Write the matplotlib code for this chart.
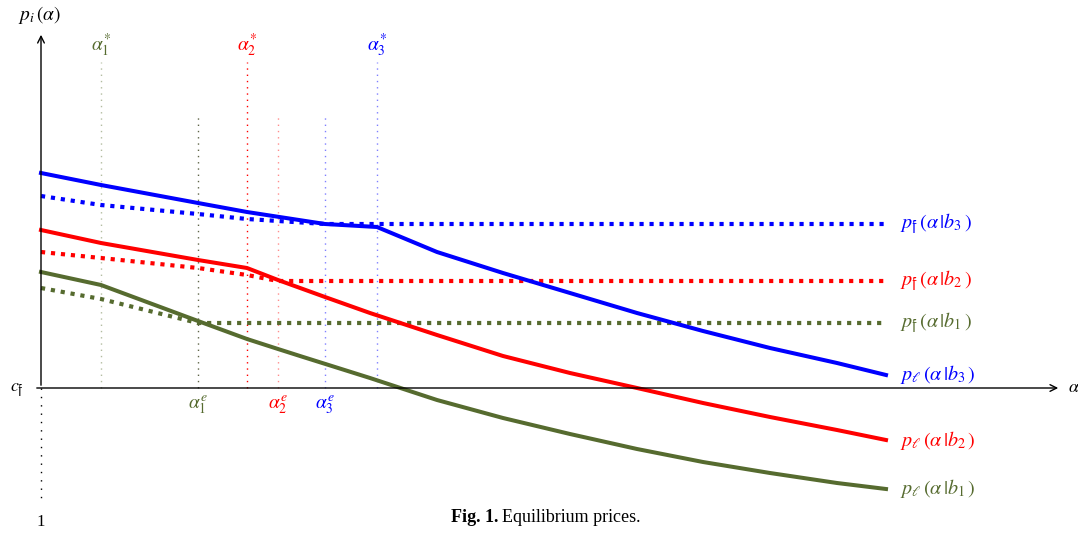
import numpy as np
import matplotlib.pyplot as plt

plt.rcParams['mathtext.fontset'] = 'stix'
plt.rcParams['font.family'] = ['Liberation Serif', 'DejaVu Serif']

GREEN = '#566b2f'
RED = '#ff0000'
BLUE = '#0000ff'

# thresholds on the alpha axis
alpha_star = [0.60, 2.06, 3.36]
alpha_e = [1.57, 2.37, 2.84]

# leader price p_l(alpha | b_i)
x_l3 = [0.0, 0.60, 1.57, 2.06, 2.84, 3.36, 3.96, 4.62, 5.29, 5.96, 6.62, 7.29, 7.96, 8.45]
p_l3 = [2.15, 2.03, 1.85, 1.76, 1.64, 1.61, 1.36, 1.15, 0.95, 0.75, 0.57, 0.40, 0.25, 0.13]
x_l2 = [0.0, 0.60, 1.57, 2.06, 2.37, 2.84, 3.29, 3.96, 4.62, 5.29, 5.96, 6.62, 7.29, 7.96, 8.45]
p_l2 = [1.58, 1.45, 1.28, 1.20, 1.08, 0.91, 0.75, 0.53, 0.32, 0.15, 0.00, -0.15, -0.29, -0.42, -0.52]
x_l1 = [0.0, 0.60, 1.57, 2.06, 2.37, 2.59, 3.29, 3.96, 4.62, 5.29, 5.96, 6.62, 7.29, 7.96, 8.45]
p_l1 = [1.16, 1.03, 0.67, 0.49, 0.39, 0.32, 0.10, -0.12, -0.30, -0.46, -0.61, -0.74, -0.85, -0.95, -1.01]

# follower price p_f(alpha | b_i)
x_f3 = [0.0, 0.60, 1.57, 2.06, 2.84, 8.45]
p_f3 = [1.92, 1.83, 1.74, 1.69, 1.64, 1.64]
x_f2 = [0.0, 0.60, 1.57, 2.06, 2.37, 8.45]
p_f2 = [1.36, 1.30, 1.20, 1.13, 1.07, 1.07]
x_f1 = [0.0, 0.60, 1.57, 8.45]
p_f1 = [1.00, 0.89, 0.65, 0.65]

fig = plt.figure(figsize=(10.78, 5.33), dpi=100)
ax = fig.add_axes([0, 0, 1, 1])
ax.set_xlim(-0.41, 10.37)
ax.set_ylim(-1.45, 3.88)
ax.axis('off')

# axes with arrows
ax.annotate('', xy=(10.20, 0), xytext=(-0.07, 0),
            arrowprops=dict(arrowstyle='->', lw=1.0, color='black', mutation_scale=12))
ax.annotate('', xy=(0, 3.56), xytext=(0, 0),
            arrowprops=dict(arrowstyle='->', lw=1.0, color='black', mutation_scale=12))
ax.plot([0, 0], [0, -1.12], color='black', lw=1.0, linestyle=(0, (1, 5)))
ax.text(10.27, 0, r'$\alpha$', fontsize=13, ha='left', va='center')
ax.text(-0.01, 3.73, r'$p_i\,(\alpha)$', fontsize=14, ha='center', va='center')
ax.text(-0.24, -0.02, r'$c_{\mathfrak{f}}$', fontsize=13, ha='center', va='center')
ax.text(0, -1.34, '1', fontsize=12, ha='center', va='center')

# vertical guides
star_cols = [(0.34, 0.42, 0.18, 0.45), (1, 0, 0, 1), (0, 0, 1, 0.5)]
e_cols = [(0.3, 0.33, 0.2, 0.9), (1, 0, 0, 0.45), (0, 0, 1, 0.5)]
txt_cols = [GREEN, RED, BLUE]
for i in range(3):
    ax.plot([alpha_star[i]] * 2, [0, 3.26], color=star_cols[i], lw=1.0, linestyle=(0, (1, 3.5)))
    ax.text(alpha_star[i], 3.43, r'$\alpha_{%d}^{*}$' % (i + 1), color=txt_cols[i],
            fontsize=14, ha='center', va='center')
    ax.plot([alpha_e[i]] * 2, [0, 2.72], color=e_cols[i], lw=1.0, linestyle=(0, (1, 3.5)))
    ax.text(alpha_e[i], -0.17, r'$\alpha_{%d}^{e}$' % (i + 1), color=txt_cols[i],
            fontsize=14, ha='center', va='center')

dots = (0, (1, 1.4))
ax.plot(x_f3, p_f3, color=BLUE, lw=3, linestyle=dots)
ax.plot(x_f2, p_f2, color=RED, lw=3, linestyle=dots)
ax.plot(x_f1, p_f1, color=GREEN, lw=3, linestyle=dots)
ax.plot(x_l3, p_l3, color=BLUE, lw=2.9, solid_joinstyle='round')
ax.plot(x_l2, p_l2, color=RED, lw=2.9, solid_joinstyle='round')
ax.plot(x_l1, p_l1, color=GREEN, lw=2.9, solid_joinstyle='round')

# curve labels
labels = [
    (p_f3[-1], r'$p_{\mathfrak{f}}\,(\alpha\,|b_3\,)$', BLUE),
    (p_f2[-1], r'$p_{\mathfrak{f}}\,(\alpha\,|b_2\,)$', RED),
    (p_f1[-1], r'$p_{\mathfrak{f}}\,(\alpha\,|b_1\,)$', GREEN),
    (p_l3[-1], r'$p_{\ell}\,(\alpha\,|b_3\,)$', BLUE),
    (p_l2[-1], r'$p_{\ell}\,(\alpha\,|b_2\,)$', RED),
    (p_l1[-1], r'$p_{\ell}\,(\alpha\,|b_1\,)$', GREEN),
]
for y, s, c in labels:
    ax.text(8.59, y, s, color=c, fontsize=14.5, ha='left', va='center')

ax.text(4.57, -1.29, 'Fig. 1.', fontsize=13, fontweight='bold', ha='right', va='center')
ax.text(4.61, -1.29, 'Equilibrium prices.', fontsize=13, ha='left', va='center')

fig.savefig('out.png', dpi=100)
